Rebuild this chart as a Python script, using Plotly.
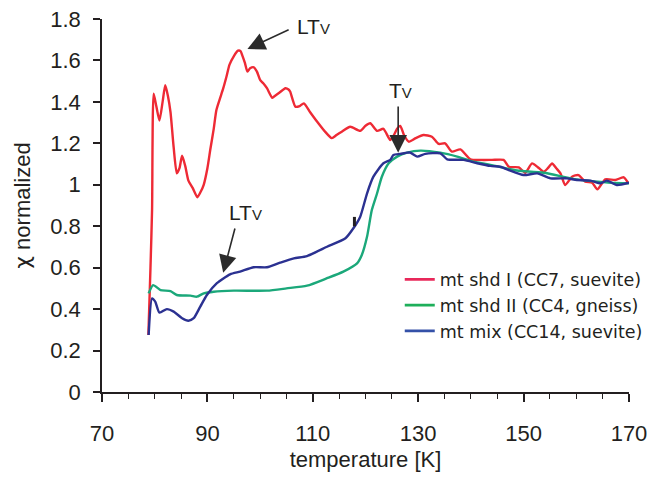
import plotly.graph_objects as go

# ---- data ----
t_red = [78.8, 79.2, 79.5, 79.8, 80.3, 80.9, 81.5, 82.0, 82.5, 83.0, 83.6, 84.2, 84.7, 85.2, 85.8,
         86.4, 87.2, 88.1, 88.7, 89.3, 90.0, 90.55, 91.2, 91.7, 92.3, 93.0, 93.6, 94.2, 95.0, 95.8,
         96.3, 96.6, 97.1, 97.6, 98.1, 98.8, 99.4, 100.0, 100.6, 101.3, 102.3, 102.6, 103.7, 104.8,
         105.4, 105.7, 106.7, 107.5, 108.3, 109.5, 110.8, 112.2, 113.6, 114.5, 115.5, 117.1, 119.0,
         120.0, 120.9, 122.2, 123.4, 124.7, 125.4, 126.0, 126.6, 127.3, 128.2, 129.5, 131.0, 132.6,
         133.9, 135.1, 136.4, 138.0, 139.9, 141.8, 144.0, 146.2, 147.2, 149.1, 150.3, 151.6, 152.7,
         153.8, 154.6, 155.4, 156.2, 157.0, 157.9, 159.2, 160.4, 161.7, 163.0, 164.0, 165.5, 167.4,
         169.0, 169.9]
chi_red = [0.275, 0.60, 0.88, 1.44, 1.38, 1.31, 1.40, 1.48, 1.43, 1.35, 1.18, 1.055, 1.08, 1.14, 1.09,
           1.02, 0.985, 0.94, 0.965, 1.00, 1.08, 1.17, 1.27, 1.36, 1.41, 1.465, 1.52, 1.58, 1.62, 1.647,
           1.645, 1.626, 1.59, 1.546, 1.562, 1.567, 1.546, 1.506, 1.49, 1.466, 1.42, 1.425, 1.445, 1.466,
           1.46, 1.45, 1.377, 1.38, 1.393, 1.35, 1.305, 1.26, 1.225, 1.24, 1.256, 1.28, 1.26,
           1.285, 1.297, 1.26, 1.27, 1.216, 1.24, 1.27, 1.284, 1.24, 1.208, 1.225, 1.24, 1.232,
           1.197, 1.20, 1.16, 1.171, 1.123, 1.12, 1.12, 1.12, 1.087, 1.084, 1.058, 1.103, 1.085,
           1.063, 1.08, 1.103, 1.08, 1.055, 0.999, 1.039, 1.047, 1.015, 1.01, 0.978, 1.026, 1.023,
           1.036, 1.007]

t_green = [78.85, 79.7, 81.1, 83.0, 84.2, 86.8, 88.0, 89.3, 91.2, 95.0, 101.3, 105.0, 108.9, 112.7,
           115.8, 118.4, 119.3, 120.3, 121.2, 122.2, 123.1, 124.4, 126.0, 127.9, 130.4, 134.2, 137.4,
           140.5, 143.7, 147.5, 149.1, 153.8, 160.1, 166.5, 170.0]
chi_green = [0.476, 0.516, 0.492, 0.487, 0.468, 0.465, 0.46, 0.476, 0.484, 0.489, 0.489, 0.50, 0.513, 0.549,
             0.581, 0.621, 0.661, 0.75, 0.878, 0.959, 1.039, 1.104, 1.136, 1.155, 1.165, 1.155, 1.136,
             1.111, 1.096, 1.075, 1.068, 1.058, 1.026, 1.01, 1.007]

t_blue = [78.85, 79.5, 80.1, 80.9, 82.3, 83.6, 85.2, 86.4, 87.4, 88.65, 89.9, 91.8, 94.3, 96.2, 98.8,
          101.3, 103.8, 106.4, 108.9, 112.7, 116.2, 117.7, 119.0, 120.3, 121.5, 123.4, 124.7, 125.3,
          126.6, 127.9, 128.5, 129.8, 131.35, 134.2, 135.5, 138.6, 141.2, 143.7, 145.6, 147.2, 150.0,
          152.6, 155.1, 158.2, 160.1, 162.7, 164.6, 165.8, 167.7, 170.0]
chi_blue = [0.275, 0.452, 0.436, 0.383, 0.40, 0.388, 0.356, 0.344, 0.356, 0.412, 0.468, 0.525, 0.568, 0.581,
            0.602, 0.602, 0.624, 0.645, 0.656, 0.701, 0.742, 0.79, 0.846, 0.959, 1.039, 1.104, 1.12,
            1.144, 1.149, 1.155, 1.155, 1.136, 1.149, 1.152, 1.123, 1.12, 1.104, 1.091, 1.087, 1.071,
            1.047, 1.055, 1.031, 1.031, 1.023, 1.02, 1.007, 1.02, 0.999, 1.01]

names = ["mt shd I (CC7, suevite)", "mt shd II (CC4, gneiss)", "mt mix (CC14, suevite)"]
colors = ["#EE2A35", "#1BA87A", "#2B3191"]
legend_colors = ["#E8285A", "#1EAF5A", "#3451A8"]

x_ticks = [70, 90, 110, 130, 150, 170]
y_ticks = [0, 0.2, 0.4, 0.6, 0.8, 1, 1.2, 1.4, 1.6, 1.8]
y_ticklabels = ["0", "0.2", "0.4", "0.6", "0.8", "1", "1.2", "1.4", "1.6", "1.8"]

FONT = "Liberation Sans, Arial, sans-serif"
INK = "#231F20"

fig = go.Figure()
for t, c, n, col in zip([t_red, t_green, t_blue], [chi_red, chi_green, chi_blue], names, colors):
    fig.add_trace(go.Scatter(x=t, y=c, mode="lines", name=n, showlegend=False,
                             line=dict(color=col, width=2.4, shape="spline", smoothing=0.6)))
# legend entries with slightly different swatch colours
for n, col in zip(names, legend_colors):
    fig.add_trace(go.Scatter(x=[None], y=[None], mode="lines", name=n,
                             line=dict(color=col, width=2.6)))

sub = "<span style='font-size:15px'>V</span>"
ann = []
# text labels
ann.append(dict(x=106.7, y=1.765, xref="x", yref="y", text="LT" + sub, showarrow=False,
                xanchor="left", yanchor="middle", font=dict(size=21, color=INK, family=FONT)))
ann.append(dict(x=93.8, y=0.865, xref="x", yref="y", text="LT" + sub, showarrow=False,
                xanchor="left", yanchor="middle", font=dict(size=21, color=INK, family=FONT)))
ann.append(dict(x=126.6, y=1.455, xref="x", yref="y", text="T" + sub, showarrow=False,
                xanchor="center", yanchor="middle", font=dict(size=21, color=INK, family=FONT)))
# arrows
for (tx, ty, hx, hy) in [(105.7, 1.752, 97.6, 1.655), (95.3, 0.796, 93.0, 0.575), (126.2, 1.385, 126.2, 1.155)]:
    ann.append(dict(x=hx, y=hy, ax=tx, ay=ty, xref="x", yref="y", axref="x", ayref="y",
                    text="", showarrow=True, arrowhead=2, arrowsize=2.2, arrowwidth=1.6,
                    arrowcolor="#2b2b2b"))

fig.update_layout(
    width=652, height=478,
    margin=dict(l=102, r=23, t=19, b=86, autoexpand=False),
    paper_bgcolor="white", plot_bgcolor="white",
    font=dict(family=FONT, color=INK, size=20),
    annotations=ann,
    shapes=[dict(type="line", xref="x", yref="y", x0=117.9, x1=117.9, y0=0.80, y1=0.845,
                 line=dict(color=INK, width=3))],
    legend=dict(x=0.565, y=0.35, xanchor="left", yanchor="top", bgcolor="rgba(0,0,0,0)",
                font=dict(size=17.5, family="DejaVu Sans, sans-serif", color=INK),
                itemwidth=30, tracegroupgap=0),
    xaxis=dict(range=[70, 170], tickvals=x_ticks, ticktext=[str(v) for v in x_ticks],
               automargin=False,
               showgrid=False, zeroline=False, showline=True, linecolor=INK, linewidth=1.6,
               ticks="outside", ticklen=8, tickwidth=1.6, tickcolor=INK,
               ticklabelstandoff=13,
               minor=dict(dtick=5, tick0=70, ticks="outside", ticklen=5, tickwidth=1.4, tickcolor=INK, showgrid=False),
               tickfont=dict(size=22, family=FONT, color=INK),
               title=dict(text="temperature [K]", font=dict(size=22, family=FONT, color=INK), standoff=6)),
    yaxis=dict(range=[0, 1.8], tickvals=y_ticks, ticktext=y_ticklabels,
               automargin=False,
               showgrid=False, zeroline=False, showline=True, linecolor=INK, linewidth=1.6,
               ticks="outside", ticklen=7, tickwidth=1.6, tickcolor=INK,
               ticklabelstandoff=8,
               tickfont=dict(size=22, family=FONT, color=INK),
               title=dict(text="<span style='font-family:DejaVu Sans'>χ</span> normalized",
                          font=dict(size=22, family=FONT, color=INK), standoff=14)),
)

fig.write_html("out.html", config={"displayModeBar": False},
               post_script="document.body.style.margin='0px';")
